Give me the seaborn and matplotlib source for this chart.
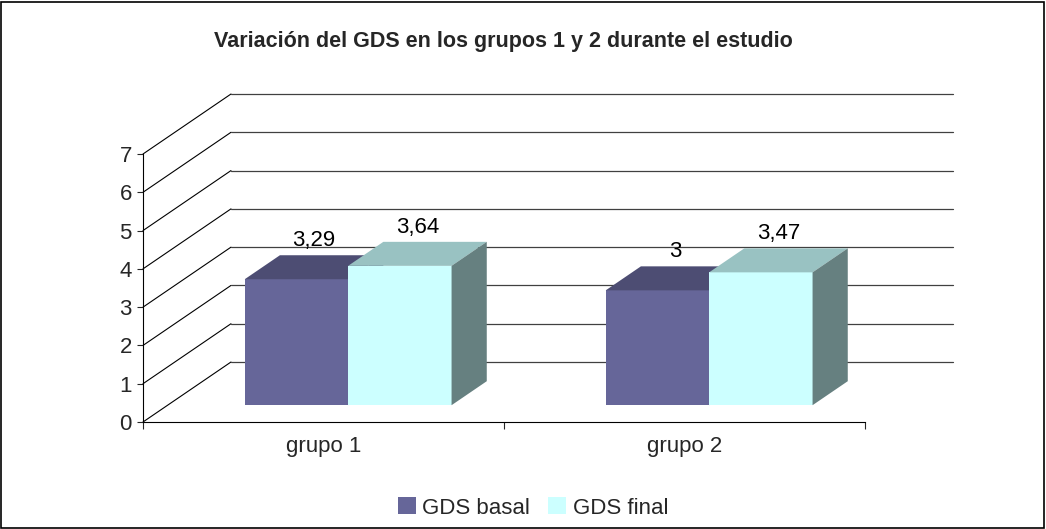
import numpy as np
import pandas as pd
import matplotlib.pyplot as plt
import seaborn as sns
from matplotlib.patches import Polygon, Rectangle

# Data
grupos = ["grupo 1", "grupo 2"]
series = ["GDS basal", "GDS final"]
gds_basal = [3.29, 3.0]
gds_final = [3.64, 3.47]
y_ticks = [0, 1, 2, 3, 4, 5, 6, 7]
titulo = "Variación del GDS en los grupos 1 y 2 durante el estudio"

df = pd.DataFrame({
    "grupo": grupos * 2,
    "serie": [series[0]] * 2 + [series[1]] * 2,
    "valor": gds_basal + gds_final,
})

# Colours: front face, top face, side face
front = {"GDS basal": "#666699", "GDS final": "#CCFFFF"}
top = {"GDS basal": "#4D4D73", "GDS final": "#99C2C2"}
side = {"GDS basal": "#4D4D73", "GDS final": "#668080"}

sns.set_style("white")
plt.rcParams['font.family'] = ['Liberation Sans', 'DejaVu Sans']

FS = 16

W, H = 1046, 529
fig = plt.figure(figsize=(W / 100, H / 100), dpi=100)
ax = fig.add_axes([143 / W, 107 / H, 722 / W, 268 / H])

sns.barplot(data=df, x="grupo", y="valor", hue="serie", palette=front,
            width=0.573, gap=0, saturation=1, legend=False, ax=ax,
            edgecolor="none", linewidth=0)
ax.set_xlim(-0.5, 1.5)
ax.set_ylim(0, 7)
ax.set_xlabel("")
ax.set_ylabel("")

# pixel -> data unit conversion for the fake 3D depth
ux = 2.0 / ax.bbox.width
uy = 7.0 / ax.bbox.height
DX, DY = 88 * ux, 60 * uy          # full depth of the back wall
F0 = 0.28                          # depth where the bar fronts sit
BD = 0.40                          # depth of the bars

# back wall + left wall grid lines
for k in y_ticks:
    ax.plot([-0.5, -0.5 + DX], [k, k + DY], color="black", lw=0.8,
            clip_on=False, zorder=0.5)
    ax.plot([-0.5 + DX, 1.5 + DX], [k + DY, k + DY], color="#404040",
            lw=0.9, clip_on=False, zorder=0.5)

# shift bars back and add top/side faces
n = len(grupos)
for i, bar in enumerate(ax.patches):
    s = series[i // n]
    val = bar.get_height()
    x0 = bar.get_x() + F0 * DX
    y0 = F0 * DY
    w = bar.get_width()
    bar.set_x(x0)
    bar.set_y(y0)
    z = 2 + i // n
    bar.set_zorder(z)
    bx, by = BD * DX, BD * DY
    yt = y0 + val
    ax.add_patch(Polygon([(x0, yt), (x0 + w, yt), (x0 + w + bx, yt + by),
                          (x0 + bx, yt + by)], closed=True, facecolor=top[s],
                         edgecolor="none", zorder=z + 0.1, clip_on=False))
    ax.add_patch(Polygon([(x0 + w, y0), (x0 + w + bx, y0 + by),
                          (x0 + w + bx, yt + by), (x0 + w, yt)], closed=True,
                         facecolor=side[s], edgecolor="none", zorder=z + 0.1,
                         clip_on=False))
    lab = f"{val:g}".replace(".", ",")
    ax.annotate(lab, (x0 + w / 2 + bx / 2, yt + by), xytext=(0, 3),
                textcoords="offset points", ha="center", va="bottom",
                fontsize=FS, color="black", zorder=10)

# axes styling
sns.despine(ax=ax, top=True, right=True)
for sp in ["left", "bottom"]:
    ax.spines[sp].set_color("black")
    ax.spines[sp].set_linewidth(0.8)
    ax.spines[sp].set_zorder(5)
ax.set_yticks(y_ticks)
ax.set_yticklabels([str(t) for t in y_ticks])
ax.tick_params(axis="y", direction="out", length=4, width=0.8, pad=4,
               labelsize=FS, left=True)
ax.set_xticks([-0.5, 0.5, 1.5])
ax.set_xticklabels(["", "", ""])
ax.tick_params(axis="x", which="major", direction="out", length=5, width=0.8,
               bottom=True)
ax.set_xticks([0, 1], minor=True)
ax.set_xticklabels(grupos, minor=True)
ax.tick_params(axis="x", which="minor", length=0, pad=10, labelsize=FS)

fig.text(503 / W, 1 - 42 / H, titulo, ha="center", va="center",
         fontsize=15.5, fontweight="bold")

handles = [Rectangle((0, 0), 1, 1, facecolor=front[s], edgecolor="none")
           for s in series]
fig.legend(handles, series, loc="center", bbox_to_anchor=(533 / W, 1 - 508 / H),
           ncol=2, frameon=False, fontsize=FS, handlelength=0.8,
           handleheight=0.8, handletextpad=0.3, columnspacing=0.8)

fig.patches.append(Rectangle((0.001, 0.002), 0.997, 0.995,
                             transform=fig.transFigure, fill=False,
                             edgecolor="black", lw=1.2))

fig.savefig("out.png", dpi=100)
